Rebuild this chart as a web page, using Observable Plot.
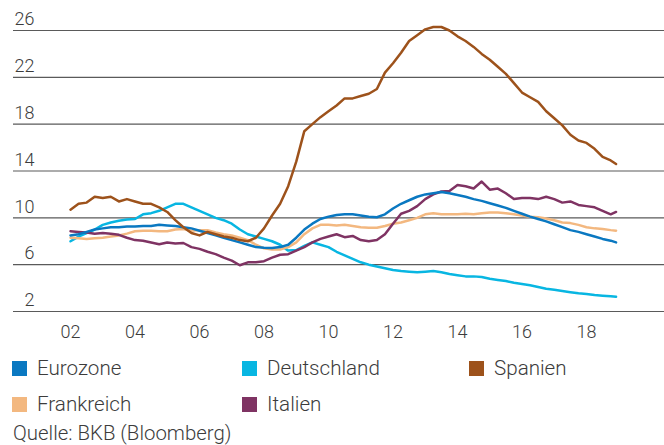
<!DOCTYPE html>
<html><head><meta charset="utf-8">
<script src="https://cdn.jsdelivr.net/npm/d3@7"></script>
<script src="https://cdn.jsdelivr.net/npm/@observablehq/plot@0.6"></script>
<style>
body{margin:0;background:#fff;font-family:Roboto,"Liberation Sans",sans-serif;font-weight:300;color:#3c3c3c;width:664px;height:445px;overflow:hidden;}
#chart svg{display:block;}
#legend{display:grid;grid-template-columns:230px 227px 200px;padding-left:12px;margin-top:2px;}
.item{display:flex;align-items:center;height:36px;font-size:20.6px;}
.sw{width:15px;height:15px;margin-right:10px;flex:none;}
#source{font-size:20.4px;padding-left:13px;line-height:22px;}
</style></head><body>
<div id="chart"></div><div id="legend"></div><div id="source"></div>
<script>
const dates = [
"2002-01","2002-04","2002-07","2002-10","2003-01","2003-04","2003-07","2003-10",
"2004-01","2004-04","2004-07","2004-10","2005-01","2005-04","2005-07","2005-10",
"2006-01","2006-04","2006-07","2006-10","2007-01","2007-04","2007-07","2007-10",
"2008-01","2008-04","2008-07","2008-10","2009-01","2009-04","2009-07","2009-10",
"2010-01","2010-04","2010-07","2010-10","2011-01","2011-04","2011-07","2011-10",
"2012-01","2012-04","2012-07","2012-10","2013-01","2013-04","2013-07","2013-10",
"2014-01","2014-04","2014-07","2014-10","2015-01","2015-04","2015-07","2015-10",
"2016-01","2016-04","2016-07","2016-10","2017-01","2017-04","2017-07","2017-10",
"2018-01","2018-04","2018-07","2018-10","2018-12"];

const seriesNames = ["Eurozone","Deutschland","Spanien","Frankreich","Italien"];
const seriesColors = ["#0a78c1","#08b6e2","#9d521b","#f3b880","#7f3363"];

const eurozone = [8.5,8.6,8.8,9.0, 9.1,9.2,9.2,9.25, 9.25,9.3,9.3,9.4, 9.35,9.3,9.2,9.1,
 8.9,8.7,8.5,8.3, 8.1,7.9,7.7,7.5, 7.45,7.43,7.5,7.7, 8.3,9.0,9.5,9.9,
 10.1,10.25,10.3,10.3, 10.2,10.1,10.05,10.3, 10.8,11.2,11.5,11.8, 12.0,12.1,12.2,12.1,
 11.95,11.8,11.6,11.45, 11.25,11.05,10.85,10.6, 10.35,10.1,9.9,9.7, 9.45,9.2,8.95,8.8,
 8.6,8.4,8.2,8.05,7.9];
const deutschland = [8.0,8.4,8.7,9.0, 9.4,9.6,9.75,9.85, 9.9,10.3,10.4,10.6, 10.9,11.2,11.2,10.9,
 10.6,10.3,10.0,9.8, 9.5,9.0,8.6,8.4, 8.2,8.0,7.7,7.2, 7.25,7.6,7.9,7.7,
 7.5,7.1,6.8,6.5, 6.2,6.0,5.85,5.7, 5.55,5.45,5.4,5.35, 5.4,5.45,5.35,5.2,
 5.1,5.0,5.0,4.95, 4.8,4.7,4.6,4.45, 4.35,4.25,4.1,3.95, 3.85,3.75,3.65,3.55,
 3.5,3.4,3.35,3.3,3.25];
const spanien = [10.7,11.2,11.3,11.8, 11.7,11.8,11.4,11.6, 11.4,11.2,11.2,10.9, 10.5,9.8,9.2,8.7,
 8.5,8.8,8.6,8.4, 8.3,8.1,8.0,8.3, 9.1,10.2,11.2,12.7, 14.8,17.4,18.0,18.6,
 19.1,19.6,20.2,20.2, 20.4,20.6,21.0,22.4, 23.2,24.1,25.1,25.6, 26.1,26.3,26.3,26.0,
 25.5,25.1,24.6,24.0, 23.5,22.9,22.3,21.5, 20.7,20.3,19.9,19.1, 18.5,17.9,17.1,16.6,
 16.4,15.9,15.2,14.9,14.6];
const frankreich = [8.3,8.25,8.2,8.25, 8.3,8.4,8.5,8.65, 8.85,8.9,8.9,8.85, 8.85,9.0,9.05,8.9,
 8.95,8.95,8.75,8.6, 8.5,8.3,8.1,7.7, 7.4,7.3,7.3,7.5, 7.9,8.6,9.1,9.4,
 9.4,9.35,9.4,9.3, 9.2,9.15,9.15,9.3, 9.5,9.6,9.8,10.0, 10.3,10.4,10.3,10.3,
 10.3,10.35,10.3,10.4, 10.45,10.45,10.4,10.3, 10.2,10.1,10.05,9.95, 9.8,9.6,9.55,9.4,
 9.2,9.1,9.05,8.95,8.9];
const italien = [8.85,8.8,8.75,8.65, 8.7,8.65,8.55,8.3, 8.1,8.05,7.9,7.75, 7.9,7.8,7.85,7.5,
 7.35,7.1,6.9,6.6, 6.35,5.95,6.2,6.2, 6.3,6.6,6.85,6.9, 7.2,7.5,7.9,8.2,
 8.4,8.6,8.35,8.45, 8.1,8.0,8.1,8.6, 9.5,10.35,10.6,11.0, 11.6,12.0,12.25,12.3,
 12.8,12.7,12.5,13.1, 12.4,12.5,12.1,11.6, 11.7,11.7,11.6,11.8, 11.6,11.3,11.4,11.1,
 11.0,10.9,10.6,10.3,10.5];

const yTicks = [2,6,10,14,18,22,26];
const xTicks = [2002,2004,2006,2008,2010,2012,2014,2016,2018];
const xTickLabels = ["02","04","06","08","10","12","14","16","18"];
const sourceText = "Quelle: BKB (Bloomberg)";

const valuesBySeries = {Eurozone: eurozone, Deutschland: deutschland, Spanien: spanien, Frankreich: frankreich, Italien: italien};
const toYear = s => +s.slice(0,4) + (+s.slice(5,7) - 1) / 12;
const drawOrder = ["Deutschland","Frankreich","Italien","Eurozone","Spanien"];
const rows = [];
for (const name of drawOrder) {
  valuesBySeries[name].forEach((v, i) => rows.push({series: name, t: toYear(dates[i]), v}));
}
const colorOf = Object.fromEntries(seriesNames.map((n, i) => [n, seriesColors[i]]));

const chart = Plot.plot({
  width: 664,
  height: 348,
  marginLeft: 13,
  marginRight: 0,
  marginTop: 30,
  marginBottom: 37,
  style: {fontFamily: 'Roboto, "Liberation Sans", sans-serif', fontSize: "18px", color: "#3c3c3c", fontWeight: 300, background: "#fff"},
  x: {domain: [2000.2326, 2020.4186]},
  y: {domain: [2, 26]},
  marks: [
    Plot.ruleY(yTicks, {stroke: "#5a5a5a", strokeWidth: 1.2}),
    Plot.axisY(yTicks, {tickSize: 0, tickPadding: 3, dx: 24, dy: -11, textAnchor: "end", label: null}),
    Plot.axisX(xTicks, {tickSize: 0, tickPadding: 14, tickFormat: d => xTickLabels[xTicks.indexOf(d)], label: null}),
    Plot.line(rows, {x: "t", y: "v", z: "series", stroke: d => colorOf[d.series], strokeWidth: 2.5, strokeLinejoin: "round", strokeLinecap: "round"})
  ]
});
document.getElementById("chart").appendChild(chart);

const legend = document.getElementById("legend");
for (const name of seriesNames) {
  const item = document.createElement("div");
  item.className = "item";
  const sw = document.createElement("span");
  sw.className = "sw";
  sw.style.background = colorOf[name];
  item.appendChild(sw);
  item.appendChild(document.createTextNode(name));
  legend.appendChild(item);
}
document.getElementById("source").textContent = sourceText;
</script>
</body></html>
